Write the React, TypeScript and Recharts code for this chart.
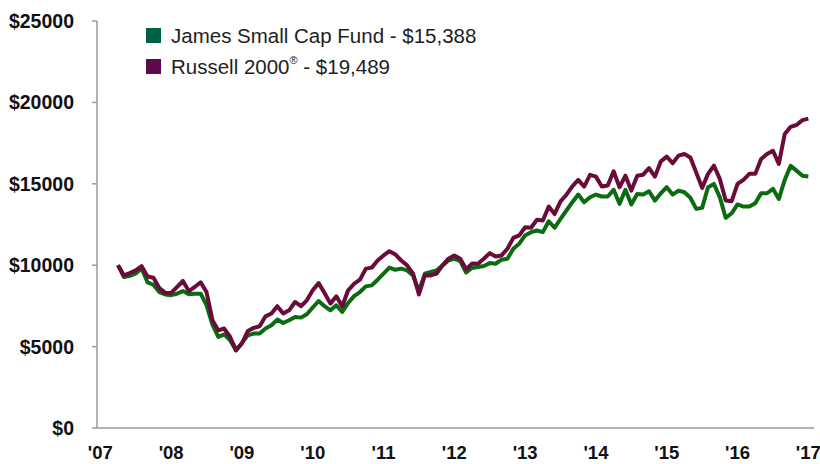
import React from 'react';
import { LineChart, Line, XAxis, YAxis } from 'recharts';

// month-end values, starting June 2007, ending March 2017
const START_YEAR = 2007;
const START_MONTH = 6;

const jamesFund = [
  10000, 9270, 9350, 9500, 9800, 8950, 8800, 8350, 8200, 8160,
  8250, 8410, 8220, 8250, 8250, 7550, 6350, 5600, 5750, 5390,
  4760, 5230, 5700, 5800, 5800, 6110, 6310, 6660, 6450, 6620,
  6820, 6780, 6990, 7400, 7800, 7480, 7230, 7540, 7130, 7680,
  8100, 8350, 8700, 8760, 9110, 9480, 9850, 9720, 9790, 9680,
  9370, 8400, 9480, 9580, 9680, 9990, 10290, 10400, 10250, 9550,
  9830, 9890, 9950, 10130, 10090, 10340, 10400, 11010, 11320, 11830,
  12030, 12130, 12030, 12700, 12300, 12850, 13360, 13870, 14340, 13870,
  14170, 14340, 14220, 14220, 14630, 13770, 14630, 13730, 14380, 14340,
  14540, 13970, 14420, 14790, 14340, 14580, 14480, 14140, 13460, 13520,
  14790, 14990, 14170, 12910, 13190, 13730, 13600, 13600, 13800, 14420,
  14420, 14690, 14070, 15240, 16110, 15810, 15500, 15450,
];

const russell2000 = [
  10000, 9370, 9520, 9680, 9940, 9310, 9230, 8600, 8300, 8300,
  8660, 9030, 8410, 8660, 8950, 8350, 6620, 6000, 6110, 5590,
  4780, 5190, 5960, 6150, 6250, 6860, 7030, 7480, 7030, 7230,
  7740, 7480, 7840, 8460, 8900, 8290, 7640, 8090, 7480, 8460,
  8850, 9110, 9790, 9850, 10290, 10600, 10860, 10660, 10290, 9990,
  9480, 8200, 9370, 9370, 9480, 9990, 10400, 10600, 10400, 9750,
  10100, 10090, 10400, 10740, 10540, 10600, 11010, 11680, 11830, 12330,
  12300, 12790, 12740, 13600, 13150, 13920, 14330, 14840, 15240, 14830,
  15550, 15440, 14830, 14890, 15770, 14790, 15500, 14580, 15500, 15560,
  15970, 15440, 16380, 16670, 16260, 16730, 16830, 16620, 15700, 14750,
  15610, 16110, 15300, 13970, 13930, 14990, 15240, 15610, 15610, 16520,
  16830, 17030, 16220, 18060, 18500, 18610, 18910, 19000,
];

// ticks sit at each March 31 (fiscal year end)
const yearTicks = [2007, 2008, 2009, 2010, 2011, 2012, 2013, 2014, 2015, 2016, 2017];
const valueTicks = [0, 5000, 10000, 15000, 20000, 25000];

const legendItems = [
  { key: 'james', label: 'James Small Cap Fund', sup: '', tail: ' - $15,388', color: '#006145' },
  { key: 'russell', label: 'Russell 2000', sup: '®', tail: ' - $19,489', color: '#5c0a4f' },
];

const data = jamesFund.map((v, i) => {
  const total = START_MONTH - 1 + i;
  const year = START_YEAR + Math.floor(total / 12);
  const month = (total % 12) + 1;
  return { t: year + (month - 3) / 12, james: v, russell: russell2000[i] };
});

const font = '"Liberation Sans", Arial, Helvetica, sans-serif';

function ChartLegend() {
  return (
    <div style={{ position: 'absolute', left: 146, top: 20, fontFamily: font }}>
      {legendItems.map((item) => (
        <div key={item.key} style={{ display: 'flex', alignItems: 'center', height: 31 }}>
          <div style={{ width: 15, height: 15, background: item.color, marginRight: 10 }} />
          <span style={{ fontSize: 20.5, color: '#1e1e1e', whiteSpace: 'nowrap' }}>
            {item.label}
            {item.sup && <sup style={{ fontSize: 11, verticalAlign: 'top', position: 'relative', top: -1 }}>{item.sup}</sup>}
            {item.tail}
          </span>
        </div>
      ))}
    </div>
  );
}

export default function App() {
  return (
    <div style={{ position: 'absolute', left: 0, top: 0, width: 820, height: 464, background: '#fff' }}>
      <LineChart
        width={820}
        height={464}
        data={data}
        margin={{ top: 21, right: 6, bottom: 6, left: 0 }}
      >
        <XAxis
          dataKey='t'
          type='number'
          domain={[2006.953, 2017.08]}
          ticks={yearTicks}
          tickFormatter={(y: number) => "'" + String(y).slice(2)}
          tickLine={false}
          tickMargin={12}
          height={30}
          stroke='#9a9a9a'
          strokeWidth={1.5}
          tick={{ fill: '#111', fontSize: 18.5, fontWeight: 700, fontFamily: font }}
        />
        <YAxis
          type='number'
          domain={[0, 25000]}
          ticks={valueTicks}
          tickFormatter={(v: number) => '$' + v}
          width={97}
          tickSize={5}
          tickMargin={18}
          stroke='#9a9a9a'
          strokeWidth={1.5}
          tick={{ fill: '#111', fontSize: 19.5, fontWeight: 700, fontFamily: font }}
        />
        <Line
          type='linear'
          dataKey='james'
          stroke='#0b6b10'
          strokeWidth={4}
          dot={false}
          strokeLinejoin='round'
          isAnimationActive={false}
        />
        <Line
          type='linear'
          dataKey='russell'
          stroke='#6a0b3a'
          strokeWidth={4}
          dot={false}
          strokeLinejoin='round'
          isAnimationActive={false}
        />
      </LineChart>
      <ChartLegend />
    </div>
  );
}
